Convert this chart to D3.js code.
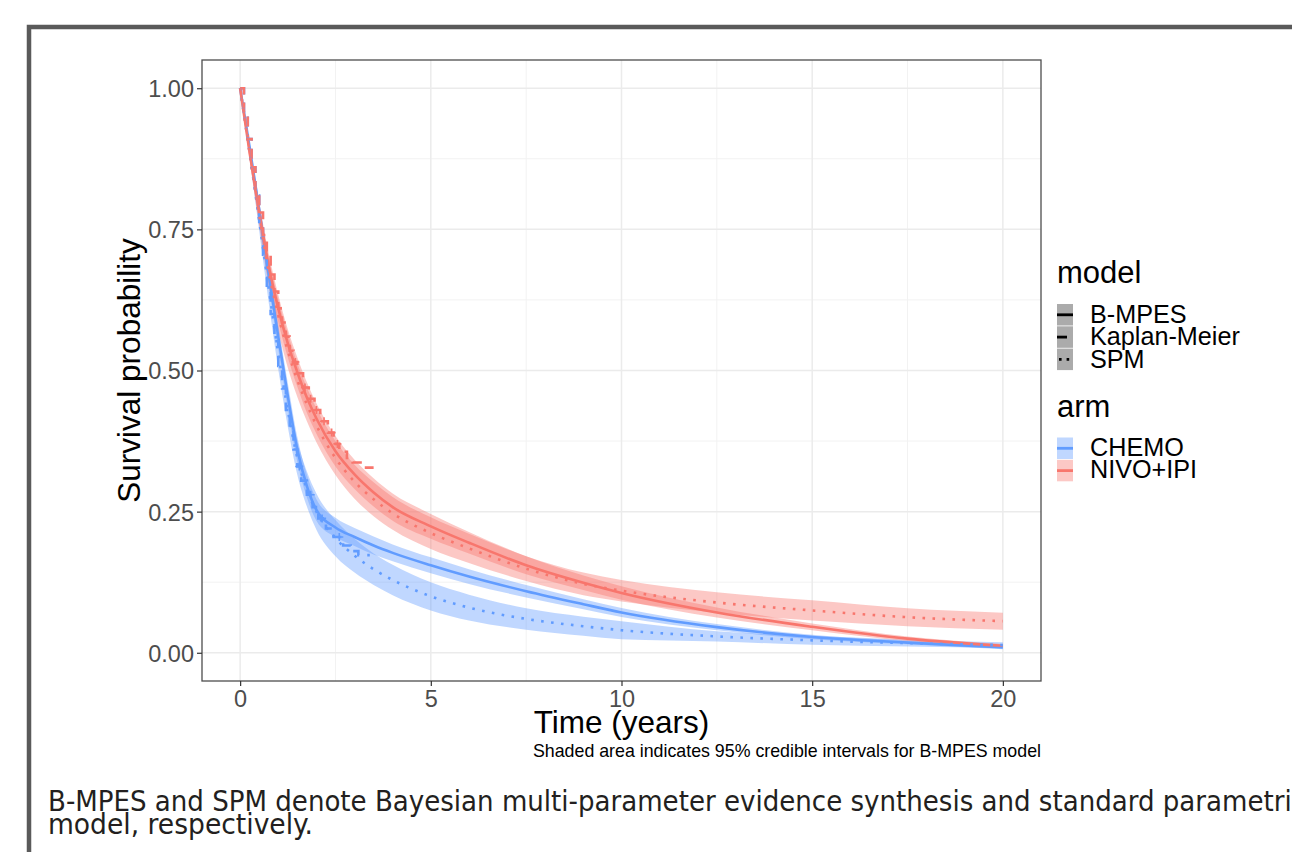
<!DOCTYPE html>
<html>
<head>
<meta charset="utf-8">
<script src="https://cdn.jsdelivr.net/npm/d3@7"></script>
<style>
  body { margin: 0; background: #fff; }
  svg text { font-family: "Liberation Sans", Arial, sans-serif; }
</style>
</head>
<body>
<div id="chart"></div>
<script>
// time grid shared by the model curves (years)
const times = [0, 0.25, 0.5, 0.75, 1, 1.25, 1.5, 1.75, 2, 2.5, 3, 3.5, 4, 5, 6, 7.5, 9, 10, 12.5, 15, 17.5, 20];

// CHEMO, B-MPES
const chemoBmpes   = [1, 0.895, 0.785, 0.67, 0.56, 0.455, 0.36, 0.295, 0.253, 0.222, 0.205, 0.19, 0.177, 0.155, 0.135, 0.109, 0.086, 0.0714, 0.0454, 0.028, 0.018, 0.0094];
const chemoBmpesLo = [1, 0.887, 0.77, 0.65, 0.538, 0.432, 0.338, 0.275, 0.234, 0.205, 0.189, 0.174, 0.162, 0.141, 0.122, 0.098, 0.077, 0.0634, 0.0399, 0.024, 0.015, 0.0064];
const chemoBmpesHi = [1, 0.903, 0.80, 0.69, 0.582, 0.478, 0.382, 0.315, 0.272, 0.239, 0.221, 0.206, 0.192, 0.169, 0.148, 0.12, 0.095, 0.0794, 0.0509, 0.032, 0.021, 0.0124];
// CHEMO, SPM
const chemoSpm   = [1, 0.885, 0.765, 0.645, 0.53, 0.43, 0.345, 0.29, 0.25, 0.203, 0.172, 0.148, 0.129, 0.10, 0.08, 0.06, 0.047, 0.04, 0.029, 0.022, 0.017, 0.0136];
const chemoSpmLo = [1, 0.875, 0.747, 0.62, 0.502, 0.40, 0.315, 0.259, 0.218, 0.171, 0.142, 0.12, 0.102, 0.075, 0.057, 0.041, 0.03, 0.024, 0.02, 0.014, 0.011, 0.0086];
const chemoSpmHi = [1, 0.895, 0.783, 0.67, 0.558, 0.46, 0.375, 0.321, 0.282, 0.235, 0.202, 0.176, 0.156, 0.125, 0.103, 0.079, 0.064, 0.056, 0.038, 0.03, 0.023, 0.0186];
// NIVO+IPI, B-MPES
const nivoBmpes   = [1, 0.885, 0.78, 0.685, 0.61, 0.548, 0.497, 0.452, 0.415, 0.357, 0.316, 0.284, 0.258, 0.224, 0.195, 0.155, 0.124, 0.106, 0.0714, 0.046, 0.025, 0.0124];
const nivoBmpesLo = [1, 0.875, 0.762, 0.663, 0.586, 0.523, 0.471, 0.425, 0.388, 0.33, 0.29, 0.259, 0.234, 0.202, 0.176, 0.139, 0.111, 0.094, 0.0624, 0.04, 0.021, 0.0094];
const nivoBmpesHi = [1, 0.895, 0.798, 0.707, 0.634, 0.573, 0.523, 0.479, 0.442, 0.384, 0.342, 0.309, 0.282, 0.246, 0.214, 0.171, 0.137, 0.118, 0.0804, 0.052, 0.029, 0.0154];
// NIVO+IPI, SPM
const nivoSpm   = [1, 0.885, 0.775, 0.675, 0.598, 0.535, 0.483, 0.44, 0.403, 0.345, 0.303, 0.272, 0.247, 0.212, 0.185, 0.149, 0.122, 0.11, 0.089, 0.075, 0.063, 0.056];
const nivoSpmLo = [1, 0.873, 0.755, 0.65, 0.57, 0.505, 0.453, 0.41, 0.373, 0.315, 0.273, 0.242, 0.218, 0.184, 0.159, 0.127, 0.102, 0.091, 0.071, 0.057, 0.047, 0.041];
const nivoSpmHi = [1, 0.897, 0.795, 0.70, 0.626, 0.565, 0.513, 0.47, 0.433, 0.375, 0.333, 0.302, 0.276, 0.24, 0.211, 0.171, 0.142, 0.129, 0.107, 0.093, 0.079, 0.071];

// Kaplan-Meier steps (time, survival); last entry closes the final step
const chemoKmTime = [0, 0.1, 0.2, 0.3, 0.4, 0.5, 0.6, 0.7, 0.8, 0.9, 1.0, 1.1, 1.2, 1.3, 1.4, 1.5, 1.6, 1.75, 1.9, 2.05, 2.25, 2.45, 2.7, 2.9, 3.1, 3.4];
const chemoKmSurv = [1, 0.955, 0.91, 0.86, 0.81, 0.76, 0.705, 0.65, 0.6, 0.552, 0.508, 0.468, 0.43, 0.395, 0.36, 0.33, 0.305, 0.28, 0.258, 0.238, 0.22, 0.205, 0.19, 0.18, 0.173, 0.173];
const nivoKmTime = [0, 0.1, 0.2, 0.3, 0.4, 0.5, 0.6, 0.7, 0.8, 0.9, 1.0, 1.1, 1.2, 1.3, 1.4, 1.5, 1.65, 1.8, 1.95, 2.1, 2.3, 2.45, 2.6, 2.8, 2.95, 3.25, 3.5];
const nivoKmSurv = [1, 0.955, 0.91, 0.86, 0.82, 0.78, 0.74, 0.705, 0.67, 0.64, 0.61, 0.585, 0.56, 0.535, 0.515, 0.495, 0.47, 0.45, 0.43, 0.41, 0.39, 0.37, 0.356, 0.345, 0.337, 0.328, 0.328];
// censoring marks on the KM curves
const nivoCensor = [1.45, 1.7, 1.85, 2.0, 2.2, 2.4, 2.55];
const chemoCensor = [1.55, 1.85, 2.15, 2.6];

const xTicks = [0, 5, 10, 15, 20];
const yTicks = [0, 0.25, 0.5, 0.75, 1];
const xMinor = [2.5, 7.5, 12.5, 17.5];
const yMinor = [0.125, 0.375, 0.625, 0.875];

const arms = ["CHEMO", "NIVO+IPI"];
const models = ["B-MPES", "Kaplan-Meier", "SPM"];
const armColor = { "CHEMO": "#619CFF", "NIVO+IPI": "#F8766D" };

const footLine1 = "B-MPES and SPM denote Bayesian multi-parameter evidence synthesis and standard parametric";
const footLine2 = "model, respectively.";

// ---------------------------------------------------------------
const W = 1292, H = 852;
const box = { left: 202, top: 60, width: 839, height: 621 };

const svg = d3.select("#chart").append("svg")
  .attr("width", W).attr("height", H)
  .style("display", "block");

svg.append("rect").attr("width", W).attr("height", H).attr("fill", "#fff");

// outer frame of the page image
svg.append("rect")
  .attr("x", 29).attr("y", 27)
  .attr("width", 1400).attr("height", 900)
  .attr("fill", "none")
  .attr("stroke", "#5a5a5a")
  .attr("stroke-width", 4.5);

const x = d3.scaleLinear().domain([-1, 21]).range([box.left, box.left + box.width]);
const y = d3.scaleLinear().domain([-0.05, 1.05]).range([box.top + box.height, box.top]);

// grid
const grid = svg.append("g");
grid.selectAll(".xminor").data(xMinor).join("line")
  .attr("x1", d => x(d)).attr("x2", d => x(d))
  .attr("y1", box.top).attr("y2", box.top + box.height)
  .attr("stroke", "#f2f2f2").attr("stroke-width", 1);
grid.selectAll(".yminor").data(yMinor).join("line")
  .attr("y1", d => y(d)).attr("y2", d => y(d))
  .attr("x1", box.left).attr("x2", box.left + box.width)
  .attr("stroke", "#f2f2f2").attr("stroke-width", 1);
grid.selectAll(".xmajor").data(xTicks).join("line")
  .attr("x1", d => x(d)).attr("x2", d => x(d))
  .attr("y1", box.top).attr("y2", box.top + box.height)
  .attr("stroke", "#ebebeb").attr("stroke-width", 1.5);
grid.selectAll(".ymajor").data(yTicks).join("line")
  .attr("y1", d => y(d)).attr("y2", d => y(d))
  .attr("x1", box.left).attr("x2", box.left + box.width)
  .attr("stroke", "#ebebeb").attr("stroke-width", 1.5);

const rows = (ts, v) => ts.map((t, i) => ({ t: t, v: v[i] }));
const bandRows = (lo, hi) => times.map((t, i) => ({ t: t, lo: lo[i], hi: hi[i] }));

const area = d3.area()
  .x(d => x(d.t))
  .y0(d => y(d.lo))
  .y1(d => y(d.hi))
  .curve(d3.curveMonotoneX);
const smooth = d3.line().x(d => x(d.t)).y(d => y(d.v)).curve(d3.curveMonotoneX);
const step = d3.line().x(d => x(d.t)).y(d => y(d.v)).curve(d3.curveStepAfter);

const bands = [
  { arm: "CHEMO", lo: chemoSpmLo, hi: chemoSpmHi },
  { arm: "CHEMO", lo: chemoBmpesLo, hi: chemoBmpesHi },
  { arm: "NIVO+IPI", lo: nivoSpmLo, hi: nivoSpmHi },
  { arm: "NIVO+IPI", lo: nivoBmpesLo, hi: nivoBmpesHi }
];
const lineBox = svg.append("g");
bands.forEach(b => {
  lineBox.append("path")
    .datum(bandRows(b.lo, b.hi))
    .attr("fill", armColor[b.arm])
    .attr("fill-opacity", 0.4)
    .attr("d", area);
});

const curves = [
  { arm: "CHEMO", data: rows(times, chemoBmpes), gen: smooth, dash: null },
  { arm: "NIVO+IPI", data: rows(times, nivoBmpes), gen: smooth, dash: null },
  { arm: "CHEMO", data: rows(chemoKmTime, chemoKmSurv), gen: step, dash: "10,8" },
  { arm: "NIVO+IPI", data: rows(nivoKmTime, nivoKmSurv), gen: step, dash: "10,8" },
  { arm: "CHEMO", data: rows(times, chemoSpm), gen: smooth, dash: "2.6,7.4" },
  { arm: "NIVO+IPI", data: rows(times, nivoSpm), gen: smooth, dash: "2.6,7.4" }
];
curves.forEach(c => {
  lineBox.append("path")
    .datum(c.data)
    .attr("fill", "none")
    .attr("stroke", armColor[c.arm])
    .attr("stroke-width", 2.6)
    .attr("stroke-dasharray", c.dash)
    .attr("d", c.gen);
});

// censor "+" marks
const kmAt = (ts, ss, t) => { let v = ss[0]; ts.forEach((tt, i) => { if (tt <= t) v = ss[i]; }); return v; };
[[nivoCensor, nivoKmTime, nivoKmSurv, "NIVO+IPI"], [chemoCensor, chemoKmTime, chemoKmSurv, "CHEMO"]].forEach(([cs, ts, ss, arm]) => {
  lineBox.selectAll(null).data(cs).join("path")
    .attr("d", d => {
      const px = x(d), py = y(kmAt(ts, ss, d));
      return "M" + px + "," + (py - 4) + "V" + (py + 4) + "M" + (px - 4) + "," + py + "H" + (px + 4);
    })
    .attr("stroke", armColor[arm])
    .attr("stroke-width", 1.6);
});

// panel border
svg.append("rect")
  .attr("x", box.left).attr("y", box.top)
  .attr("width", box.width).attr("height", box.height)
  .attr("fill", "none")
  .attr("stroke", "#4d4d4d")
  .attr("stroke-width", 1.3);

// axes
const gx = svg.append("g")
  .attr("transform", "translate(0," + (box.top + box.height) + ")")
  .call(d3.axisBottom(x).tickValues(xTicks).tickFormat(d3.format("d")).tickSize(5).tickPadding(4));
const gy = svg.append("g")
  .attr("transform", "translate(" + box.left + ",0)")
  .call(d3.axisLeft(y).tickValues(yTicks).tickFormat(d3.format(".2f")).tickSize(5).tickPadding(3));
[gx, gy].forEach(g => {
  g.select(".domain").remove();
  g.selectAll(".tick line").attr("stroke", "#333").attr("stroke-width", 1.2);
  g.selectAll(".tick text")
    .attr("fill", "#4d4d4d")
    .style("font-size", "23.5px")
    .style("font-family", "'Liberation Sans', Arial, sans-serif");
});
gy.selectAll(".tick text").attr("dy", "0.36em");

svg.append("text")
  .attr("x", box.left + box.width / 2)
  .attr("y", 733)
  .style("text-anchor", "middle")
  .style("font-size", "31.5px")
  .text("Time (years)");

svg.append("text")
  .attr("transform", "translate(140," + (box.top + box.height / 2) + ") rotate(-90)")
  .style("text-anchor", "middle")
  .style("font-size", "31.5px")
  .text("Survival probability");

svg.append("text")
  .attr("x", box.left + box.width)
  .attr("y", 757)
  .style("text-anchor", "end")
  .style("font-size", "17.8px")
  .text("Shaded area indicates 95% credible intervals for B-MPES model");

// legend: model
const leg = svg.append("g");
leg.append("text").attr("x", 1057).attr("y", 283).style("font-size", "31px").text("model");
const modelDash = { "B-MPES": null, "Kaplan-Meier": "10,8", "SPM": "2.6,5" };
models.forEach((m, i) => {
  const ky = 304 + i * 22.3;
  leg.append("rect").attr("x", 1057).attr("y", ky).attr("width", 16).attr("height", 21.5).attr("fill", "#ababab");
  leg.append("line")
    .attr("x1", m === "SPM" ? 1059 : 1057).attr("x2", 1073)
    .attr("y1", ky + 10.8).attr("y2", ky + 10.8)
    .attr("stroke", "#000").attr("stroke-width", 2.8)
    .attr("stroke-dasharray", modelDash[m]);
  leg.append("text").attr("x", 1090).attr("y", ky + 19).style("font-size", "25.2px").text(m);
});

// legend: arm
leg.append("text").attr("x", 1057).attr("y", 417).style("font-size", "31px").text("arm");
arms.forEach((a, i) => {
  const ky = 437.5 + i * 22.3;
  leg.append("rect").attr("x", 1057).attr("y", ky).attr("width", 16).attr("height", 21.5)
    .attr("fill", armColor[a]).attr("fill-opacity", 0.4);
  leg.append("line")
    .attr("x1", 1057).attr("x2", 1073)
    .attr("y1", ky + 10.8).attr("y2", ky + 10.8)
    .attr("stroke", armColor[a]).attr("stroke-width", 2.8);
  leg.append("text").attr("x", 1090).attr("y", ky + 18.5).style("font-size", "25.2px").text(a);
});

// footnote below the figure
svg.append("text")
  .attr("x", 48).attr("y", 811)
  .attr("textLength", 1258).attr("lengthAdjust", "spacingAndGlyphs")
  .style("font-family", "'DejaVu Sans Condensed', 'DejaVu Sans', sans-serif")
  .style("font-size", "28px")
  .attr("fill", "#231f20")
  .text(footLine1);
svg.append("text")
  .attr("x", 48).attr("y", 834)
  .attr("textLength", 265).attr("lengthAdjust", "spacingAndGlyphs")
  .style("font-family", "'DejaVu Sans Condensed', 'DejaVu Sans', sans-serif")
  .style("font-size", "28px")
  .attr("fill", "#231f20")
  .text(footLine2);
</script>
</body>
</html>
